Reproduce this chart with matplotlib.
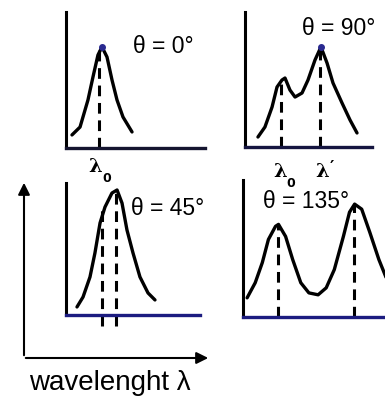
import matplotlib
matplotlib.use("Agg")
import matplotlib.pyplot as plt
from matplotlib import font_manager

# ---------------- data (panel-local units, 0..10) ----------------
angles = ["θ = 0°", "θ = 90°", "θ = 45°", "θ = 135°"]

x0 = [0.43, 1.01, 1.58, 1.94, 2.30, 2.59, 2.95, 3.31, 3.67, 4.10, 4.75]
y0 = [0.96, 1.54, 3.53, 5.22, 6.84, 7.43, 6.69, 5.00, 3.53, 2.28, 1.18]

x90 = [1.02, 1.57, 2.13, 2.52, 2.91, 3.15, 3.54, 3.94, 4.49, 4.96, 5.51, 5.98, 6.46, 6.93, 7.64, 8.27, 8.82]
y90 = [0.74, 1.48, 2.96, 4.44, 4.96, 5.11, 4.22, 3.70, 4.00, 4.96, 6.44, 7.41, 6.22, 4.74, 3.26, 2.00, 1.04]

x45 = [0.82, 1.27, 1.79, 2.16, 2.54, 2.91, 3.43, 3.81, 4.18, 4.55, 5.00, 5.52, 6.12, 6.64]
y45 = [0.61, 1.36, 2.88, 4.70, 6.97, 8.18, 9.24, 9.47, 8.48, 6.44, 4.70, 2.88, 1.67, 1.14]

x135 = [0.29, 0.86, 1.36, 1.79, 2.29, 2.50, 3.00, 3.50, 4.07, 4.64, 5.29, 5.86, 6.43, 7.07, 7.50, 7.86, 8.36, 8.93, 9.57, 10.14]
y135 = [1.40, 2.50, 3.97, 5.66, 6.62, 6.76, 5.88, 4.19, 2.50, 1.76, 1.62, 2.13, 3.46, 5.88, 7.65, 8.24, 7.87, 6.18, 4.19, 2.72]

# dashed marker lines: (x, top)
lines0 = [(2.40, 7.4)]
lines90 = [(2.83, 5.0), (5.90, 7.4)]
lines45 = [(2.69, 8.0), (3.75, 9.4)]
lines135 = [(2.43, 6.7), (7.79, 8.2)]

# wavelength labels: (main, suffix, x)
peak_labels0 = [("λ", "0", 2.09)]
peak_labels90 = [("λ", "0", 2.76), ("λ", "′", 6.06)]

xlabel = "wavelenght λ"

# ---------------- figure ----------------
W, H = 385, 399
fig = plt.figure(figsize=(W / 100, H / 100), dpi=100)

avail = {f.name for f in font_manager.fontManager.ttflist}
narrow = "Liberation Sans Narrow" if "Liberation Sans Narrow" in avail else "Liberation Sans"


def make_ax(left, right, top, bottom, axis_color):
    ax = fig.add_axes([left / W, 1 - bottom / H, (right - left) / W, (bottom - top) / H])
    ax.set_xlim(0, 10)
    ax.set_ylim(0, 10)
    for s in ("top", "right"):
        ax.spines[s].set_visible(False)
    ax.spines["left"].set_linewidth(2.2)
    ax.spines["bottom"].set_linewidth(2.4)
    ax.spines["left"].set_color("black")
    ax.spines["bottom"].set_color(axis_color)
    ax.set_xticks([])
    ax.set_yticks([])
    ax.patch.set_alpha(0)
    return ax


panels = [
    (66, 205, 12, 148, "#151530", x0, y0, lines0, (6.98, 7.43), angles[0], 0.0),
    (245, 372, 12, 147, "#151540", x90, y90, lines90, (7.4, 8.8), angles[1], 0.0),
    (66, 200, 183, 315, "#1c1c80", x45, y45, lines45, (7.6, 8.1), angles[2], -0.8),
    (243, 385, 180, 317, "#1c1c80", x135, y135, lines135, (4.44, 8.4), angles[3], 0.0),
]

axes = []
for (l, r, t, b, col, xs, ys, dl, tp, lab, dbot) in panels:
    ax = make_ax(l, r, t, b, col)
    ax.plot(xs, ys, color="black", lw=2.4, solid_capstyle="round",
            solid_joinstyle="round", clip_on=True)
    for (xd, top) in dl:
        ax.plot([xd, xd], [dbot, top], color="black", lw=2.2,
                dashes=(3.5, 2.2), clip_on=False)
    ax.text(tp[0], tp[1], lab, ha="center", va="center", fontsize=16.5,
            family=[narrow, "DejaVu Sans"])
    axes.append(ax)

# peak dots
axes[0].plot([x0[5]], [y0[5]], "o", color="#2a2a90", ms=4, clip_on=False)
axes[1].plot([x90[11]], [y90[11]], "o", color="#2a2a90", ms=4, clip_on=False)


def wl_label(ax, main, suffix, xp, yp):
    ax.text(xp, yp, main, ha="center", va="center", fontsize=14,
            fontweight="bold", family="DejaVu Serif")
    if suffix == "0":
        ax.text(xp + 0.85, yp - 0.85, suffix, ha="center", va="center",
                fontsize=9, fontweight="bold", family="DejaVu Sans")
    else:
        ax.text(xp + 0.8, yp + 0.35, suffix, ha="center", va="center",
                fontsize=12, fontweight="bold", family="DejaVu Serif")


for (m, s, xp) in peak_labels0:
    wl_label(axes[0], m, s, xp, -1.40)
for (m, s, xp) in peak_labels90:
    wl_label(axes[1], m, s, xp, -1.85)

# big axes arrows
fig.patches.append(matplotlib.patches.FancyArrowPatch(
    (24 / W, 1 - 358 / H), (24 / W, 1 - 180 / H), transform=fig.transFigure,
    arrowstyle="-|>,head_length=7,head_width=3.5", lw=1.5, color="black"))
fig.patches.append(matplotlib.patches.FancyArrowPatch(
    (23 / W, 1 - 358 / H), (211 / W, 1 - 358 / H), transform=fig.transFigure,
    arrowstyle="-|>,head_length=7,head_width=3.5", lw=1.5, color="black"))

fig.text(110 / W, 1 - 383 / H, xlabel, ha="center", va="center", fontsize=20,
         family=["Liberation Sans", "DejaVu Sans"])

fig.savefig("out.png", dpi=100)
